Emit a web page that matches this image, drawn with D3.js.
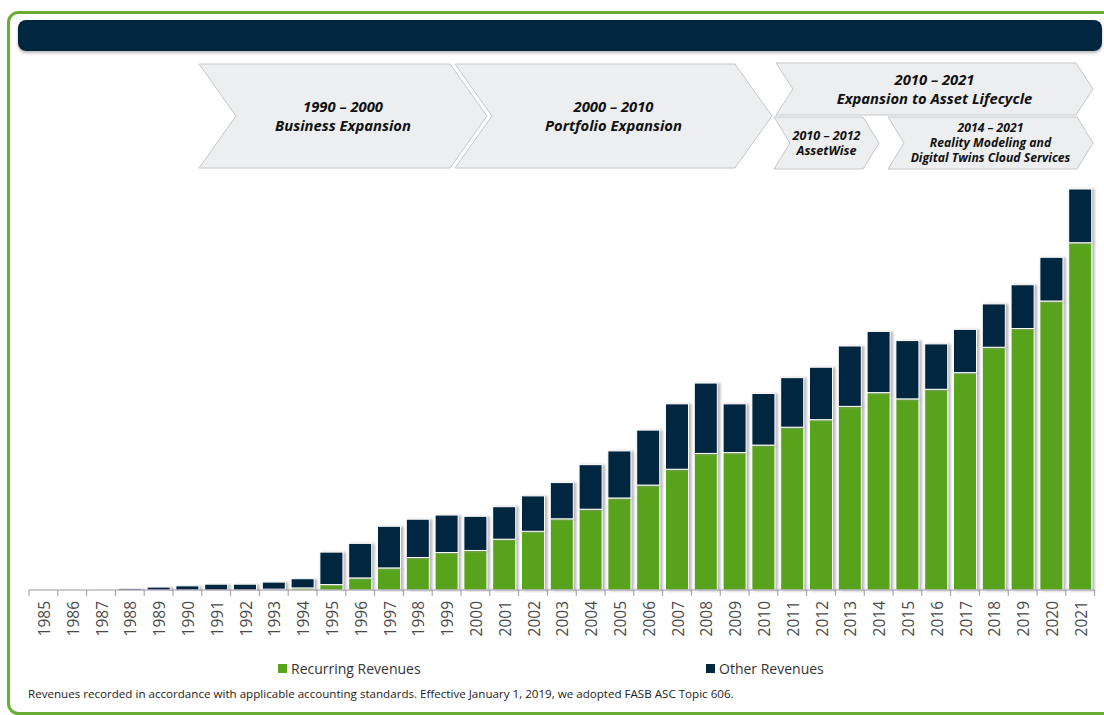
<!DOCTYPE html>
<html lang="en">
<head>
    <meta charset="UTF-8">
    <title>Revenue History</title>
    <script src="https://d3js.org/d3.v7.min.js"></script>
    <style>
        body {
            margin: 0;
            padding: 0;
            background: #fff;
        }
        svg {
            display: block;
            font-family: "Open Sans", sans-serif;
        }
        .phase text {
            font-weight: bold;
            font-style: italic;
            fill: #111;
            text-anchor: middle;
        }
        .year-label {
            font-size: 15.5px;
            fill: #4a4a4a;
        }
    </style>
</head>
<body>
    <svg id="chart" width="1104" height="715"></svg>

    <script>
        // revenue data, $ millions
        const years = ["1985", "1986", "1987", "1988", "1989", "1990", "1991", "1992", "1993", "1994",
            "1995", "1996", "1997", "1998", "1999", "2000", "2001", "2002", "2003", "2004",
            "2005", "2006", "2007", "2008", "2009", "2010", "2011", "2012", "2013", "2014",
            "2015", "2016", "2017", "2018", "2019", "2020", "2021"];
        const recurring = [0, 0, 0, 0, 0, 0, 0, 0, 2, 5,
            13, 29, 53, 78, 90, 95, 122, 141, 171, 194,
            221, 252, 290, 328, 330, 348, 391, 409, 441, 474,
            459, 482, 522, 583, 628, 694, 834];
        const other = [0, 0, 0, 4, 7, 10, 14, 14, 17, 22,
            78, 83, 100, 92, 90, 82, 78, 85, 87, 107,
            113, 132, 157, 169, 117, 124, 119, 126, 145, 147,
            140, 109, 104, 104, 105, 105, 129];
        const seriesNames = ["Recurring Revenues", "Other Revenues"];
        const footnote = "Revenues recorded in accordance with applicable accounting standards. Effective January 1, 2019, we adopted FASB ASC Topic 606.";

        // phase banners: label lines + box layout
        const phases = [
            { lines: ["1990 \u2013 2000", "Business Expansion"], x0: 199, x1: 450, y0: 64, y1: 168, d: 37, size: 14.8, lh: 19 },
            { lines: ["2000 \u2013 2010", "Portfolio Expansion"], x0: 455, x1: 735, y0: 64, y1: 168, d: 37, size: 14.8, lh: 19 },
            { lines: ["2010 \u2013 2021", "Expansion to Asset Lifecycle"], x0: 776, x1: 1076, y0: 63, y1: 115, d: 17, size: 14.8, lh: 19 },
            { lines: ["2010 \u2013 2012", "AssetWise"], x0: 774, x1: 863, y0: 117, y1: 169, d: 16, size: 12.6, lh: 15 },
            { lines: ["2014 \u2013 2021", "Reality Modeling and", "Digital Twins Cloud Services"], x0: 888, x1: 1077, y0: 117, y1: 169, d: 16, size: 12.2, lh: 15 }
        ];

        const GREEN = "#58a31c";
        const NAVY = "#03273f";

        const svg = d3.select("#chart");

        const defs = svg.append("defs");
        const shadow = defs.append("filter").attr("id", "barShadow")
            .attr("x", "-20%").attr("y", "-5%").attr("width", "160%").attr("height", "110%");
        shadow.append("feDropShadow")
            .attr("dx", 2.5).attr("dy", 0.5).attr("stdDeviation", 0.8)
            .attr("flood-color", "#9a9a9a").attr("flood-opacity", 0.7);
        const bannerShadow = defs.append("filter").attr("id", "bannerShadow")
            .attr("x", "-5%").attr("y", "-20%").attr("width", "110%").attr("height", "160%");
        bannerShadow.append("feDropShadow")
            .attr("dx", 0).attr("dy", 2).attr("stdDeviation", 1.5)
            .attr("flood-color", "#888").attr("flood-opacity", 0.6);

        // outer frame + title banner
        svg.append("rect")
            .attr("x", 8.5).attr("y", 12.5).attr("width", 1115).attr("height", 701)
            .attr("rx", 10)
            .attr("fill", "#fff")
            .attr("stroke", "#69ad32").attr("stroke-width", 3);

        svg.append("rect")
            .attr("x", 18).attr("y", 20).attr("width", 1084).attr("height", 31)
            .attr("rx", 8)
            .attr("fill", NAVY)
            .attr("filter", "url(#bannerShadow)");

        // phase chevrons
        const chevron = p => {
            const ym = (p.y0 + p.y1) / 2;
            return `M${p.x0},${p.y0}L${p.x1},${p.y0}L${p.x1 + p.d},${ym}L${p.x1},${p.y1}L${p.x0},${p.y1}L${p.x0 + p.d},${ym}Z`;
        };

        const phaseG = svg.append("g").attr("class", "phase")
            .selectAll("g")
            .data(phases)
            .join("g");

        phaseG.append("path")
            .attr("d", chevron)
            .attr("fill", "#eceef0")
            .attr("stroke", "#c4c6c8")
            .attr("stroke-width", 1);

        phaseG.each(function(p) {
            const cx = (p.x0 + p.d + p.x1) / 2;
            const ym = (p.y0 + p.y1) / 2;
            const n = p.lines.length;
            const t = d3.select(this).append("text")
                .style("font-size", p.size + "px");
            p.lines.forEach((line, i) => {
                t.append("tspan")
                    .attr("x", cx)
                    .attr("y", ym + (i - (n - 1) / 2) * p.lh + p.size * 0.36)
                    .text(line);
            });
        });

        // chart area
        const margin = { left: 29, right: 1094.6, top: 189, bottom: 590 };

        const x = d3.scaleBand()
            .domain(years)
            .range([margin.left, margin.right])
            .paddingInner(0.2)
            .paddingOuter(0.1);

        const table = years.map((yr, i) => ({ year: yr, recurring: recurring[i], other: other[i] }));
        const stack = d3.stack().keys(["recurring", "other"])(table);

        const y = d3.scaleLinear()
            .domain([0, d3.max(table, d => d.recurring + d.other)])
            .range([margin.bottom, margin.top]);

        const color = d3.scaleOrdinal()
            .domain(["recurring", "other"])
            .range([GREEN, NAVY]);

        const barG = svg.append("g").attr("class", "bars");

        barG.selectAll("g")
            .data(stack)
            .join("g")
            .attr("fill", d => color(d.key))
            .selectAll("rect")
            .data(d => d.filter(s => s[1] - s[0] > 0))
            .join("rect")
            .attr("x", d => x(d.data.year))
            .attr("width", x.bandwidth())
            .attr("y", d => y(d[1]))
            .attr("height", d => y(d[0]) - y(d[1]))
            .attr("stroke", "#fff")
            .attr("stroke-width", 1)
            .attr("filter", "url(#barShadow)");

        // x axis: baseline, ticks at band edges, rotated labels
        const axisG = svg.append("g")
            .attr("transform", `translate(0,${margin.bottom})`);

        axisG.append("line")
            .attr("x1", margin.left).attr("x2", margin.right)
            .attr("stroke", "#a094a8").attr("stroke-width", 1.2);

        const step = x.step();
        const edges = d3.range(years.length + 1).map(i => margin.left + i * step);
        axisG.selectAll(".tick")
            .data(edges)
            .join("line")
            .attr("class", "tick")
            .attr("x1", d => d).attr("x2", d => d)
            .attr("y1", 0).attr("y2", 6)
            .attr("stroke", "#a094a8");

        axisG.selectAll(".year-label")
            .data(years)
            .join("text")
            .attr("class", "year-label")
            .attr("transform", d => `translate(${margin.left + years.indexOf(d) * step + step / 2 + 1},11) rotate(-90)`)
            .attr("text-anchor", "end")
            .attr("dy", "0.36em")
            .text(d => d);

        // legend
        const legend = svg.append("g").attr("class", "legend")
            .selectAll("g")
            .data([{ key: "recurring", name: seriesNames[0], x: 278 }, { key: "other", name: seriesNames[1], x: 706 }])
            .join("g")
            .attr("transform", d => `translate(${d.x},664)`);

        legend.append("rect")
            .attr("width", 9).attr("height", 9)
            .attr("fill", d => color(d.key));

        legend.append("text")
            .attr("x", 13).attr("y", 9.5)
            .style("font-size", "14px")
            .style("fill", "#333")
            .text(d => d.name);

        // footnote
        svg.append("text")
            .attr("x", 28).attr("y", 698)
            .style("font-size", "11.6px")
            .style("fill", "#222")
            .text(footnote);
    </script>
</body>
</html>
